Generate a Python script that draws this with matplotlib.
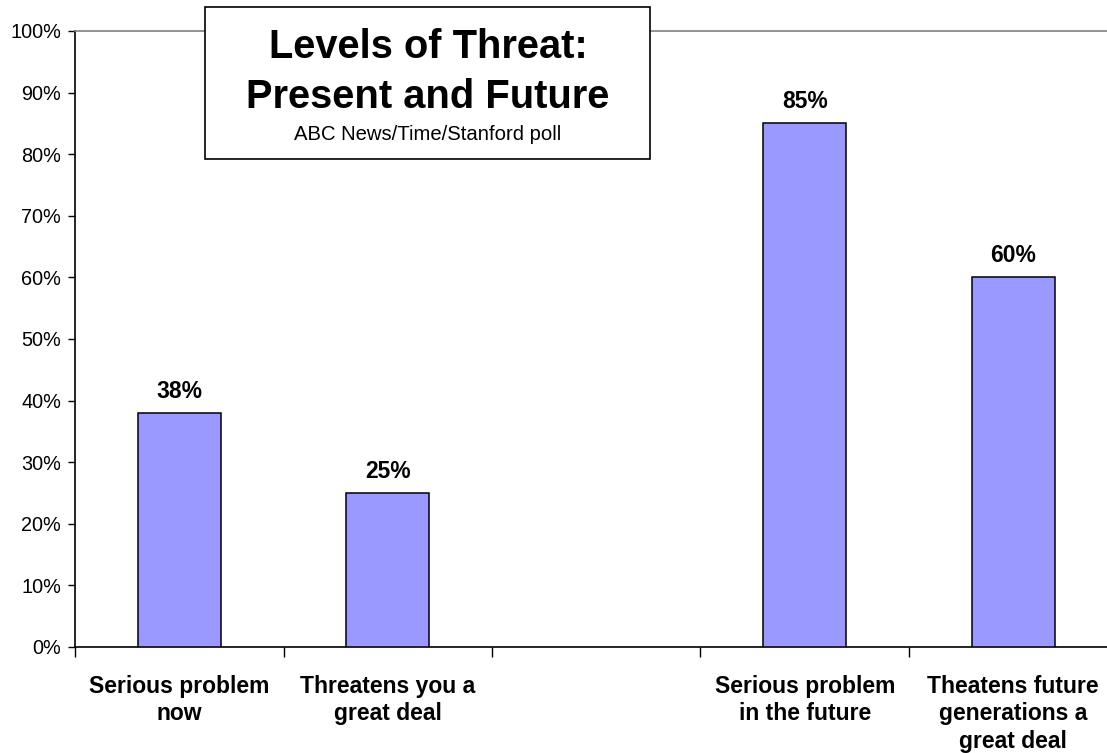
import numpy as np
import matplotlib
matplotlib.use("Agg")
import matplotlib.pyplot as plt
from matplotlib.patches import Rectangle
from matplotlib.ticker import FixedLocator, FuncFormatter

categories = ["Serious problem\nnow", "Threatens you a\ngreat deal", "",
              "Serious problem\nin the future",
              "Theatens future\ngenerations a\ngreat deal"]
values = [38, 25, np.nan, 85, 60]
y_ticks = list(range(0, 101, 10))
title_lines = ["Levels of Threat:", "Present and Future"]
subtitle = "ABC News/Time/Stanford poll"

plt.rcParams['font.family'] = ['Liberation Sans', 'DejaVu Sans']

W, H = 1107, 753
fig = plt.figure(figsize=(W / 100, H / 100), dpi=100)
ax = fig.add_axes([75 / W, (H - 647) / H, 1042.5 / W, 616 / H])

x = np.arange(len(categories))
vals = np.array(values, dtype=float)
mask = ~np.isnan(vals)
ax.bar(x[mask], vals[mask], width=0.4, color='#9999FF', edgecolor='black',
       linewidth=1.1, zorder=3)

for xi, v in zip(x[mask], vals[mask]):
    ax.annotate(f"{v:.0f}%", (xi, v), xytext=(0, 11), textcoords='offset points',
                ha='center', va='baseline', fontsize=16.5, fontweight='bold')

ax.set_xlim(-0.5, len(categories) - 0.5)
ax.set_ylim(0, 100)

ax.set_yticks(y_ticks)
ax.yaxis.set_major_formatter(FuncFormatter(lambda v, p: f"{v:.0f}%"))
ax.tick_params(axis='y', direction='out', length=5, width=1, labelsize=14.3, pad=5)

ax.set_xticks(x)
ax.set_xticklabels(categories, fontsize=16.5, fontweight='bold', linespacing=1.26)
ax.tick_params(axis='x', which='major', length=0, pad=20)
ax.xaxis.set_minor_locator(FixedLocator(np.arange(-0.5, len(categories), 1.0)))
ax.tick_params(axis='x', which='minor', direction='out', length=7, width=1)

for s in ['left', 'bottom']:
    ax.spines[s].set_color('black')
    ax.spines[s].set_linewidth(1.2)
for s in ['top', 'right']:
    ax.spines[s].set_color('#808080')
    ax.spines[s].set_linewidth(1.2)

# title box
box = Rectangle((205 / W, (H - 159) / H), 445 / W, 152 / H, transform=fig.transFigure,
                facecolor='white', edgecolor='black', linewidth=1.2, zorder=5)
fig.add_artist(box)
cx = 428 / W
fig.text(cx, 1 - 58 / H, title_lines[0], ha='center', va='baseline', fontsize=28.7,
         fontweight='bold', zorder=6)
fig.text(cx, 1 - 108 / H, title_lines[1], ha='center', va='baseline', fontsize=28.7,
         fontweight='bold', zorder=6)
fig.text(cx, 1 - 140 / H, subtitle, ha='center', va='baseline', fontsize=14.6, zorder=6)

fig.savefig("out.png", dpi=100)
